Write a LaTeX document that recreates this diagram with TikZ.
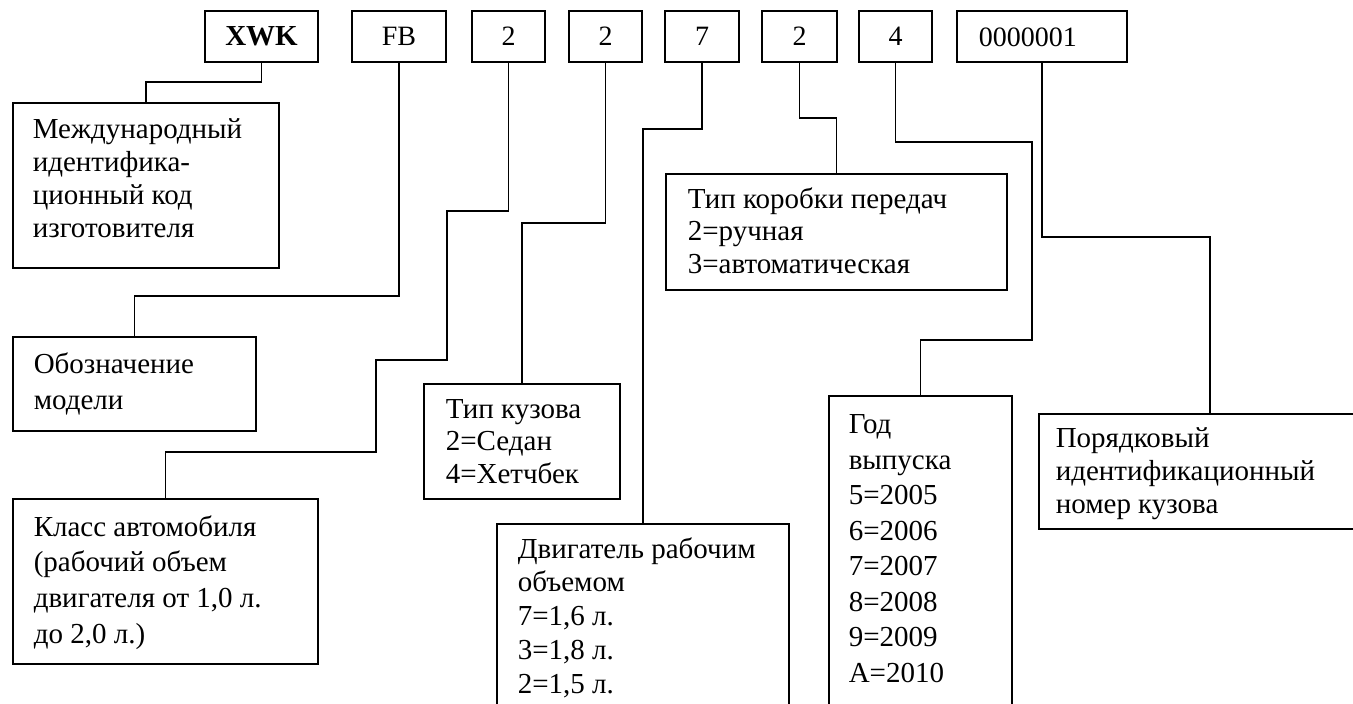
\documentclass[tikz,border=0pt]{standalone}
\usepackage{fontspec}
\setmainfont{Liberation Serif}
\newcommand\txtlines[5]{%
  \foreach \tline [count=\i from 0] in {#5} {\node[lbl] (#1-\i) at ({#2},{#3+\i*#4}) {\tline};}}
\begin{document}
\begin{tikzpicture}[x=1pt,y=-1pt,line width=1.6pt,
  topbox/.style={draw,minimum height=51pt,inner sep=0pt,font=\fontsize{28}{33}\selectfont},
  box/.style={draw,anchor=north west,inner sep=0pt},
  lbl/.style={anchor=base west,inner sep=0pt,font=\fontsize{29}{33}\selectfont}]
\useasboundingbox (0,0) rectangle (1353,704);
\clip (0,0) rectangle (1353,704);
% top row
\node[topbox,minimum width=113pt,font=\fontsize{29}{33}\selectfont\bfseries] (xwk) at (261.5,36.5) {XWK};
\node[topbox,minimum width=94pt] (fb) at (399,36.5) {FB};
\node[topbox,minimum width=73pt] (d2a) at (508.5,36.5) {2};
\node[topbox,minimum width=73pt] (d2b) at (605.5,36.5) {2};
\node[topbox,minimum width=74pt] (d7) at (702,36.5) {7};
\node[topbox,minimum width=75pt] (d2c) at (799.5,36.5) {2};
\node[topbox,minimum width=73pt] (d4) at (895.5,36.5) {4};
\node[topbox,minimum width=170pt] (num) at (1042,36.5) {};
\node[lbl,font=\fontsize{28}{33}\selectfont] (numtxt) at (978,46.5) {0000001};
% lower boxes
\node[box,minimum width=266pt,minimum height=165pt] (b1) at (12,102) {};
\node[box,minimum width=243pt,minimum height=94pt] (b2) at (12,336) {};
\node[box,minimum width=305pt,minimum height=165pt] (b3) at (12,498) {};
\node[box,minimum width=196pt,minimum height=115pt] (kuz) at (423,383) {};
\node[box,minimum width=292pt,minimum height=200pt] (dvig) at (496,523) {};
\node[box,minimum width=341pt,minimum height=116pt] (kor) at (665,173) {};
\node[box,minimum width=183pt,minimum height=330pt] (god) at (828,395) {};
\node[box,minimum width=342pt,minimum height=115pt] (por) at (1038,413) {};
% texts
\txtlines{t1}{32}{138}{33}{{Международный},{идентифика-},{ционный код},{изготовителя}}
\txtlines{t2}{33}{373}{36}{{Обозначение},{модели}}
\txtlines{t3}{33}{536}{35.7}{{Класс автомобиля},{(рабочий объем},{двигателя от 1,0 л.},{до 2,0 л.)}}
\txtlines{t4}{445}{418}{32.5}{{Тип кузова},{2=Седан},{4=Хетчбек}}
\txtlines{t5}{517}{558}{33.8}{{Двигатель рабочим},{объемом},{7=1,6 л.},{3=1,8 л.},{2=1,5 л.}}
\txtlines{t6}{687}{208}{32.5}{{Тип коробки передач},{2=ручная},{3=автоматическая}}
\txtlines{t7}{848}{433.5}{35.5}{{Год},{выпуска},{5=2005},{6=2006},{7=2007},{8=2008},{9=2009},{A=2010}}
\txtlines{t8}{1055}{447}{33}{{Порядковый},{идентификационный},{номер кузова}}
% connectors
\draw (xwk.south) -- ++(0,19) -| (b1.north);
\draw (fb.south) -- ++(0,233) -| (b2.north);
\draw (d2a.south) -- ++(0,148) -| (447,360) -| (376,452) -| (b3.north);
\draw (d2b.south) -- ++(0,160) -| (kuz.north);
\draw (d7.south) -- ++(0,66) -| (dvig.north);
\draw (d2c.south) -- ++(0,55) -| (kor.north);
\draw (d4.south) -- ++(0,79) -| (1032,340) -| (god.north);
\draw (num.south) -- ++(0,174) -| (por.north);
\end{tikzpicture}
\end{document}
